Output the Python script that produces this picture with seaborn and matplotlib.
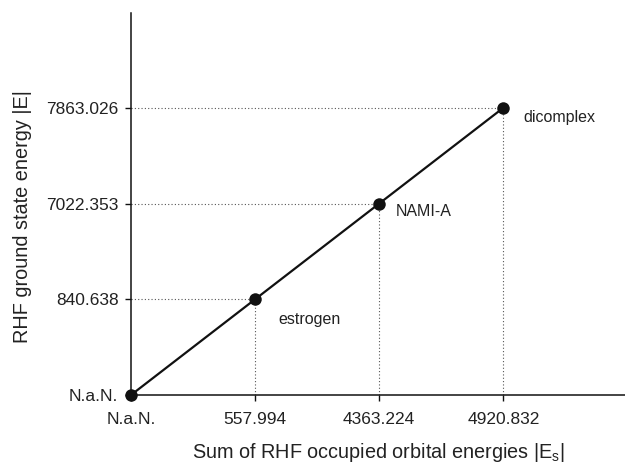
import matplotlib
matplotlib.use("Agg")
import matplotlib.pyplot as plt
import seaborn as sns
import pandas as pd

x_ticklabels = ["N.a.N.", "557.994", "4363.224", "4920.832"]
y_ticklabels = ["N.a.N.", "840.638", "7022.353", "7863.026"]
compounds = ["", "estrogen", "NAMI-A", "dicomplex"]
label_offsets = [(0, 0), (23, -20), (17, -8), (20, -10)]

sns.set_theme(style="ticks")
plt.rcParams["font.family"] = ["Liberation Sans", "DejaVu Sans"]
plt.rcParams["mathtext.fontset"] = "custom"
plt.rcParams["mathtext.rm"] = "Liberation Sans"
plt.rcParams["mathtext.it"] = "Liberation Sans"

pos = list(range(len(x_ticklabels)))
df = pd.DataFrame({"x": pos, "y": pos, "name": compounds})

fig = plt.figure(figsize=(6.25, 4.68), dpi=100)
ax = fig.add_axes([131 / 625, 73 / 468, 1 - 131 / 625, (395 - 13) / 468])

# dotted guide lines
for xi, yi in zip(df["x"], df["y"]):
    if xi == 0:
        continue
    ax.plot([0, xi], [yi, yi], ls=(0, (1, 2)), color="#555555", lw=0.8, zorder=1)
    ax.plot([xi, xi], [0, yi], ls=(0, (1, 2)), color="#555555", lw=0.8, zorder=1)

sns.lineplot(data=df, x="x", y="y", color="#111111", lw=1.6, marker="o",
             markersize=9, markeredgewidth=0, ax=ax, zorder=3)
for line in ax.lines:
    line.set_clip_on(False)

for xi, yi, nm, off in zip(df["x"], df["y"], df["name"], label_offsets):
    if nm:
        ax.annotate(nm, (xi, yi), xytext=off, textcoords="offset pixels",
                    ha="left", va="center", fontsize=11.5, color="#222222")

ax.set_xlim(0, 3.98)
ax.set_ylim(0, 3.99)
ax.set_xticks(pos)
ax.set_xticklabels(x_ticklabels)
ax.set_yticks(pos)
ax.set_yticklabels(y_ticklabels)
ax.tick_params(axis="both", labelsize=12.5, length=4, width=1, colors="#111111",
               labelcolor="#222222")
ax.tick_params(axis="x", pad=8)
ax.tick_params(axis="y", pad=5)
for s in ["top", "right"]:
    ax.spines[s].set_visible(False)
for s in ["left", "bottom"]:
    ax.spines[s].set_color("#111111")
    ax.spines[s].set_linewidth(1.1)

ax.set_xlabel(r"Sum of RHF occupied orbital energies |E$_{\rm s}$|", fontsize=14.3,
              color="#222222", labelpad=10)
ax.set_ylabel("RHF ground state energy |E|", fontsize=14.3, color="#222222")
ax.yaxis.set_label_coords(-0.2, 0.468)

fig.savefig("out.png", dpi=100)
